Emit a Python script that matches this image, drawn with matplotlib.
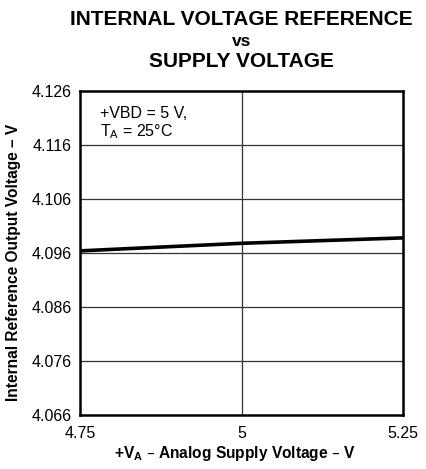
import matplotlib.pyplot as plt

plt.rcParams['font.family'] = ['Liberation Sans', 'DejaVu Sans']

# supply voltage (V) and measured reference output (V)
supply_v = [4.75, 5.0, 5.25]
vref_out = [4.0964, 4.0978, 4.0988]

x_ticks = [4.75, 5.0, 5.25]
x_tick_labels = ['4.75', '5', '5.25']
y_ticks = [4.066, 4.076, 4.086, 4.096, 4.106, 4.116, 4.126]

title_lines = ['INTERNAL VOLTAGE REFERENCE', 'vs', 'SUPPLY VOLTAGE']

fig = plt.figure(figsize=(4.26, 4.69), dpi=100)
ax = fig.add_axes([0.188, 0.115, 0.758, 0.691])

ax.plot(supply_v, vref_out, color='black', linewidth=2.6, solid_capstyle='butt')

ax.set_xlim(4.75, 5.25)
ax.set_ylim(4.066, 4.126)
ax.set_xticks(x_ticks)
ax.set_xticklabels(x_tick_labels)
ax.set_yticks(y_ticks)
ax.set_yticklabels([f'{v:.3f}' for v in y_ticks])
ax.tick_params(length=0, labelsize=11.5)
ax.tick_params(axis='x', pad=8)
ax.tick_params(axis='y', pad=6)

for x in x_ticks[1:-1]:
    ax.axvline(x, color='#333333', linewidth=0.9, zorder=0)
for y in y_ticks[1:-1]:
    ax.axhline(y, color='#333333', linewidth=0.9, zorder=0)

for s in ax.spines.values():
    s.set_linewidth(1.8)

ax.text(0.063, 0.955, '+VBD = 5 V,\nT$_\\mathregular{A}$ = 25°C', transform=ax.transAxes,
        va='top', ha='left', fontsize=11.5, linespacing=1.1)

ax.set_xlabel('+V$_\\mathregular{A}$ – Analog Supply Voltage – V', fontsize=11.2,
              fontweight='bold')
ax.xaxis.set_label_coords(0.478, -0.09)
ax.set_ylabel('Internal Reference Output Voltage – V', fontsize=11.2,
              fontweight='bold')
ax.yaxis.set_label_coords(-0.183, 0.47)

# three title rows, placed by baseline (pixels from top)
for text, base_px, size in zip(title_lines, [25, 46, 67], [15, 12.5, 15]):
    fig.text(0.567, 1 - base_px / 469, text, ha='center', va='baseline',
             fontsize=size, fontweight='bold')

fig.savefig('out.png', dpi=100)
